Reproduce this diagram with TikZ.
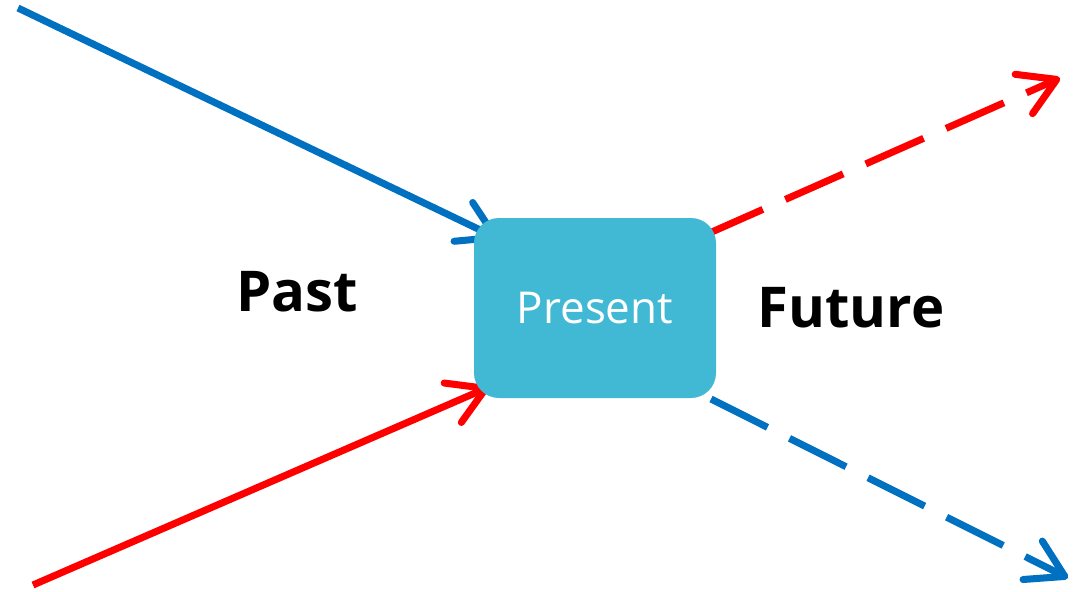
\documentclass[tikz,border=0pt]{standalone}
\usepackage{fontspec}
\setmainfont{Open Sans}
\usepackage{tikz}
\usetikzlibrary{arrows.meta}
\definecolor{tblue}{HTML}{0070C0}
\definecolor{tred}{HTML}{FF0000}
\definecolor{tbox}{HTML}{42B9D4}

\begin{document}
\begin{tikzpicture}[scale = 2,
		timeline/.style = {line width = 4pt,-{Straight Barb[length=0.72cm,width=0.86cm,round]}},
		later/.style = {timeline,dash pattern = on 36pt off 14pt},
		period/.style = {font = \fontsize{32}{38}\selectfont\bfseries}]
		\useasboundingbox (0,0) rectangle (10.76,5.91);
		\coordinate (ps) at (0.18,5.83);
		\coordinate (pe) at (4.99,3.52);
		\coordinate (qs) at (0.33,0.06);
		\coordinate (qe) at (4.89,2.04);
		\coordinate (fs) at (7.05,3.56);
		\coordinate (fe) at (10.60,5.13);
		\coordinate (gs) at (7.11,1.92);
		\coordinate (ge) at (10.68,0.13);
		\draw[timeline,color = tblue] (ps) -- (pe);
		\draw[timeline,color = tred] (qs) -- (qe);
		\draw[later,color = tred] (fs) -- (fe);
		\draw[later,color = tblue] (gs) -- (ge);
		\node[fill = tbox,rounded corners = 0.5cm,minimum width = 4.84cm,minimum height = 3.6cm,text = white,font = \fontsize{25}{30}\selectfont] (pres) at (5.95,2.83){Present};
		\node[period] (past) at (2.97,2.99){Past};
		\node[period] (fut) at (8.51,2.83){Future};
		\end{tikzpicture}
\end{document}
